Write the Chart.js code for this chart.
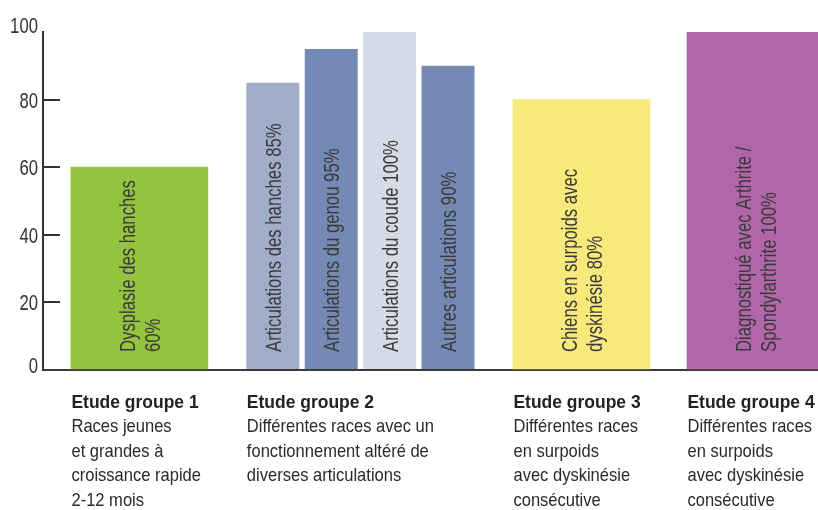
<!DOCTYPE html>
<html lang="fr">
<head>
<meta charset="utf-8">
<title>Etudes groupes</title>
<script src="https://cdn.jsdelivr.net/npm/chart.js@4.4.1/dist/chart.umd.min.js"></script>
<style>
  html, body { margin: 0; padding: 0; background: #fff; overflow: hidden; }
  #wrap { width: 818px; height: 510px; }
</style>
</head>
<body>
<div id="wrap"><canvas id="chart" width="818" height="510"></canvas></div>
<script>
// --- Données ---
const groupes = ['Etude groupe 1', 'Etude groupe 2', 'Etude groupe 3', 'Etude groupe 4'];
const descriptions = [
    ['Races jeunes', 'et grandes à', 'croissance rapide', '2-12 mois'],
    ['Différentes races avec un', 'fonctionnement altéré de', 'diverses articulations'],
    ['Différentes races', 'en surpoids', 'avec dyskinésie', 'consécutive'],
    ['Différentes races', 'en surpoids', 'avec dyskinésie', 'consécutive']
];
const yTicks = [0, 20, 40, 60, 80, 100];

// groupes 1 et 3 : une barre chacun
const valeursSimples = [60, null, 80, null];
const textesSimples = [['Dysplasie des hanches', ''], null, ['Chiens en surpoids avec', 'dyskinésie'], null];

// groupe 2 : quatre articulations
const articulations = ['Articulations des hanches', 'Articulations du genou', 'Articulations du coude', 'Autres articulations'];
const valeursArticulations = [85, 95, 100, 90];

// groupe 4
const valeursGroupe4 = [null, null, null, 100];
const texteGroupe4 = ['Diagnostiqué avec Arthrite /', 'Spondylarthrite'];

// --- Styles ---
// pas de police condensée installée : Liberation Sans comprimée horizontalement
const FONT = "'Liberation Sans', Arial, sans-serif";
const couleursSimples = ['#94c43f', null, '#f7e97b', null];
const couleursArticulations = ['#9fadc8', '#7489b3', '#d6dce7', '#7489b3'];
const couleurGroupe4 = '#b066a8';
const LARGEUR_BARRE = 137;

function texteCondense(ctx, txt, x, y, sx) {
    ctx.save();
    ctx.translate(x, y);
    ctx.scale(sx, 1);
    ctx.fillText(txt, 0, 0);
    ctx.restore();
}

// ajoute la valeur en % à la dernière ligne du texte
function avecValeur(lignes, v) {
    const out = lignes.slice();
    const last = out.length - 1;
    out[last] = (out[last] ? out[last] + ' ' : '') + v + '%';
    return out;
}

const datasets = [];
datasets.push({
    data: valeursSimples,
    backgroundColor: couleursSimples,
    barThickness: LARGEUR_BARRE,
    textes: valeursSimples.map((v, i) => v == null ? null : avecValeur(textesSimples[i], v))
});
articulations.forEach((nom, k) => {
    const data = [null, valeursArticulations[k], null, null];
    datasets.push({
        data,
        backgroundColor: couleursArticulations[k],
        categoryPercentage: 1.057,
        barPercentage: 0.907,
        textes: data.map(v => v == null ? null : [nom + ' ' + v + '%'])
    });
});
datasets.push({
    data: valeursGroupe4,
    backgroundColor: couleurGroupe4,
    barThickness: 231,
    textes: valeursGroupe4.map(v => v == null ? null : avecValeur(texteGroupe4, v))
});

// texte vertical dans les barres
const texteBarres = {
    id: 'texteBarres',
    afterDatasetsDraw(chart) {
        const ctx = chart.ctx;
        const base = chart.scales.y.getPixelForValue(0);
        ctx.save();
        ctx.font = '22px ' + FONT;
        ctx.fillStyle = '#3a3a3a';
        ctx.textAlign = 'left';
        ctx.textBaseline = 'alphabetic';
        chart.data.datasets.forEach((ds, di) => {
            const meta = chart.getDatasetMeta(di);
            meta.data.forEach((el, i) => {
                const lignes = ds.textes[i];
                if (!lignes) return;
                const gauche = el.x - el.width / 2;
                const cx = gauche + Math.min(el.width, LARGEUR_BARRE) / 2;
                const lh = 25;
                lignes.forEach((l, j) => {
                    const bx = cx + 8 + (j - (lignes.length - 1) / 2) * lh;
                    ctx.save();
                    ctx.translate(bx, base - 18);
                    ctx.rotate(-Math.PI / 2);
                    texteCondense(ctx, l, 0, 0, 0.76);
                    ctx.restore();
                });
            });
        });
        ctx.restore();
    }
};

// étiquettes de l'axe Y, titres et descriptions sous l'axe
const legendeGroupes = {
    id: 'legendeGroupes',
    afterDraw(chart) {
        const ctx = chart.ctx;
        const yScale = chart.scales.y;
        ctx.save();
        ctx.textBaseline = 'alphabetic';

        ctx.textAlign = 'right';
        ctx.fillStyle = '#333';
        ctx.font = '22px ' + FONT;
        yScale.ticks.forEach((t, k) => {
            let cy = yScale.getPixelForValue(t.value);
            if (k === 0) cy -= 5;
            if (k === yScale.ticks.length - 1) cy -= 7;
            texteCondense(ctx, String(t.value), 38, cy + 8, 0.76);
        });

        ctx.textAlign = 'left';
        groupes.forEach((g, gi) => {
            let gauche = Infinity;
            chart.data.datasets.forEach((ds, di) => {
                if (ds.data[gi] == null) return;
                const el = chart.getDatasetMeta(di).data[gi];
                gauche = Math.min(gauche, el.x - el.width / 2);
            });
            const x = gauche + 0.5;
            let y = 408;
            ctx.fillStyle = '#222';
            ctx.font = 'bold 19px ' + FONT;
            texteCondense(ctx, g, x, y, 0.92);
            ctx.font = '19px ' + FONT;
            ctx.fillStyle = '#2a2a2a';
            descriptions[gi].forEach(l => {
                y += 24.4;
                texteCondense(ctx, l, x, y, 0.87);
            });
        });
        ctx.restore();
    }
};

new Chart(document.getElementById('chart'), {
    type: 'bar',
    data: {
        labels: groupes.map((g, i) => i),
        datasets
    },
    options: {
        responsive: false,
        animation: false,
        skipNull: true,
        layout: { padding: { top: 32, left: 0, right: 0, bottom: 0 } },
        plugins: { legend: { display: false }, tooltip: { enabled: false } },
        scales: {
            x: {
                type: 'linear',
                min: -0.4364,
                max: 3.0704,
                offset: false,
                afterBuildTicks(scale) { scale.ticks = groupes.map((g, i) => ({ value: i })); },
                ticks: { display: false },
                grid: { display: false, drawTicks: false },
                border: { display: true, color: '#3a3a3a', width: 2 },
                afterFit(scale) { scale.height = 140; }
            },
            y: {
                min: 0,
                max: 100,
                afterBuildTicks(scale) { scale.ticks = yTicks.map(v => ({ value: v })); },
                ticks: { display: false },
                grid: {
                    drawOnChartArea: false,
                    drawTicks: true,
                    tickLength: -17,
                    lineWidth: 2,
                    color: c => (c.tick && (c.tick.value === 0 || c.tick.value === 100)) ? 'rgba(0,0,0,0)' : '#333'
                },
                border: { display: true, color: '#333', width: 2 },
                afterFit(scale) { scale.width = 43; }
            }
        }
    },
    plugins: [texteBarres, legendeGroupes]
});
</script>
</body>
</html>
